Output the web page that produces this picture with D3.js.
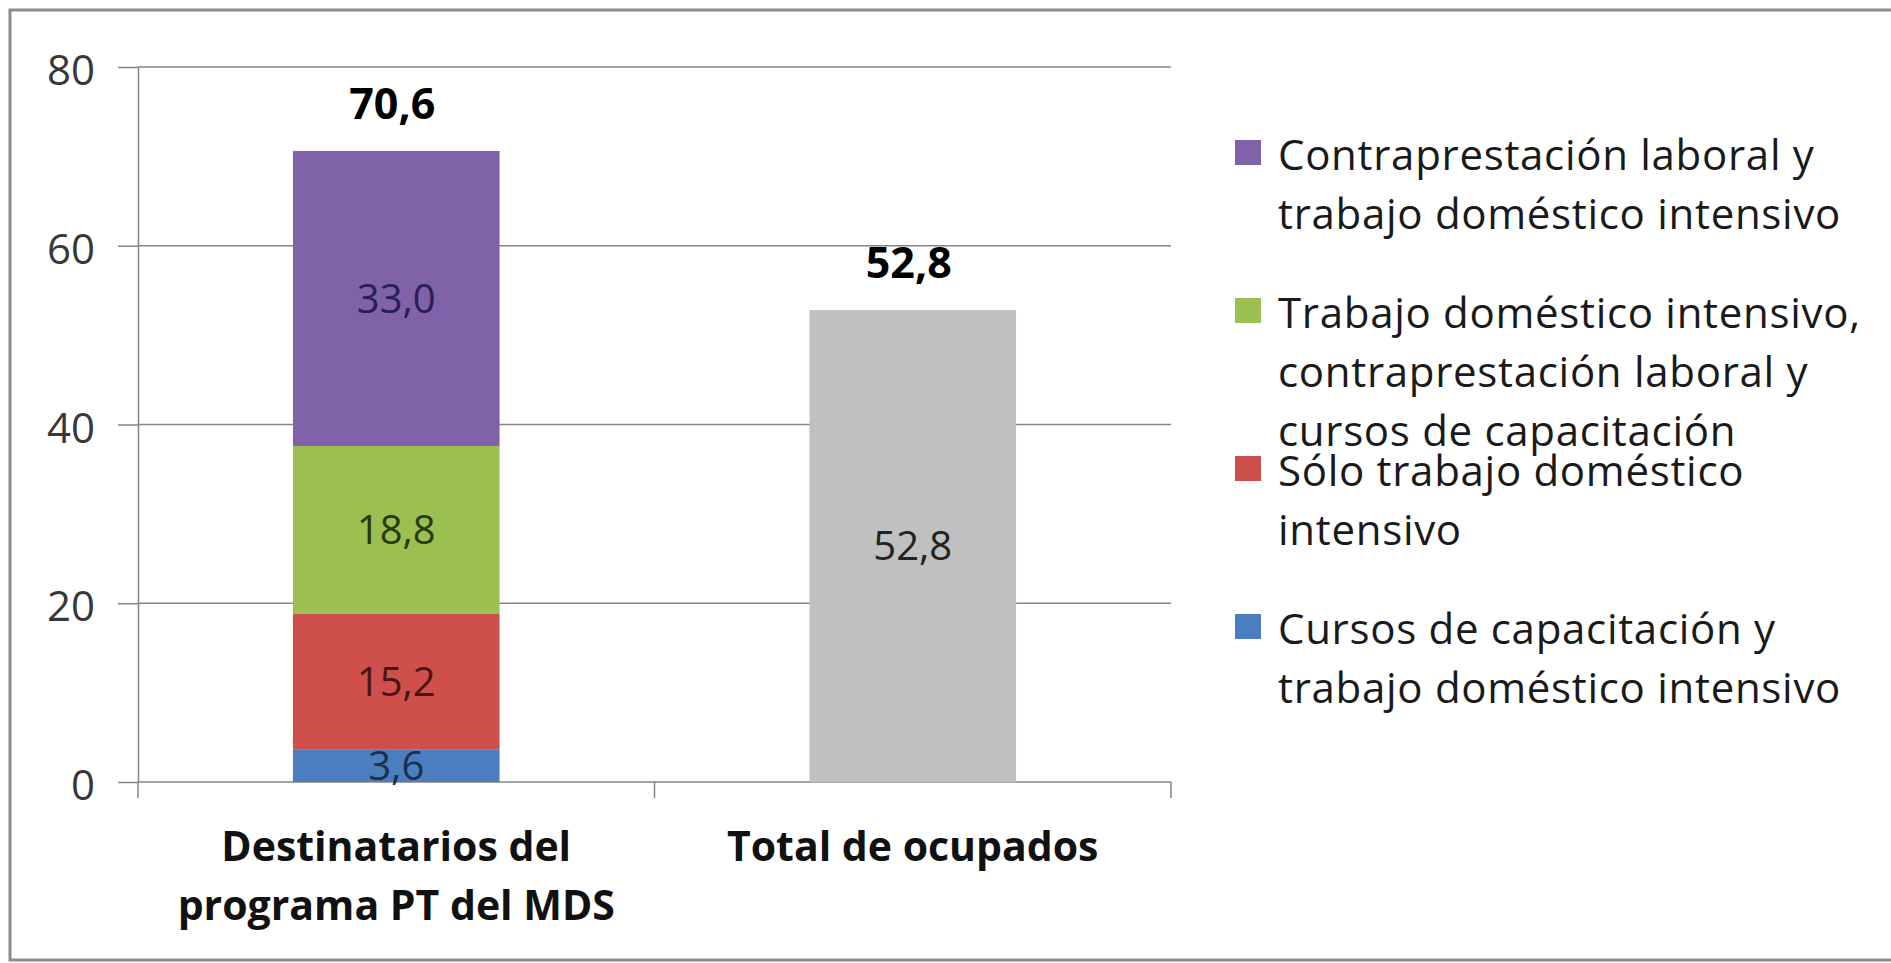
<!DOCTYPE html>
<html>
<head>
<meta charset="utf-8">
<script src="https://cdn.jsdelivr.net/npm/d3@7"></script>
<style>
  html, body { margin: 0; padding: 0; background: #fff; }
  svg text { font-family: "Open Sans", "Noto Sans", sans-serif; }
</style>
</head>
<body>
<svg id="chart" width="1891" height="963"></svg>
<script>
// categories and values
const categories = ["Destinatarios del programa PT del MDS", "Total de ocupados"];
const categoryLines = [["Destinatarios del", "programa PT del MDS"], ["Total de ocupados"]];
const seriesKeys = ["cursos", "solo", "trabajo", "contra"]; // stack order, bottom to top
const seriesLegend = [
  ["Cursos de capacitación y", "trabajo doméstico intensivo"],
  ["Sólo trabajo doméstico", "intensivo"],
  ["Trabajo doméstico intensivo,", "contraprestación laboral y", "cursos de capacitación"],
  ["Contraprestación laboral y", "trabajo doméstico intensivo"]
];
const seriesColors = ["#4a7ebf", "#cf4f4c", "#9cbf52", "#7f62a8"];
const seriesTextColors = ["#1c2f4f", "#4a1414", "#2a3a10", "#2a1f55"];
const destinatariosValues = [3.6, 15.2, 18.8, 33.0];
const totalOcupadosValue = 52.8;
const yTicks = [0, 20, 40, 60, 80];

const svg = d3.select("#chart");
const fmt = v => d3.format(".1f")(v).replace(".", ",");

// outer frame
svg.append("rect")
  .attr("x", 10).attr("y", 10)
  .attr("width", 1900).attr("height", 950)
  .attr("fill", "#fff")
  .attr("stroke", "#8c8c8c")
  .attr("stroke-width", 3);

const plot = { left: 138, right: 1171, top: 67, bottom: 782 };

const y = d3.scaleLinear().domain([0, 80]).range([plot.bottom, plot.top]);
const x = d3.scaleBand()
  .domain(categories)
  .range([plot.left, plot.right])
  .paddingInner(0.6)
  .paddingOuter(0.3);

// gridlines
svg.append("g")
  .selectAll("line")
  .data(yTicks)
  .join("line")
  .attr("x1", plot.left).attr("x2", plot.right)
  .attr("y1", d => y(d)).attr("y2", d => y(d))
  .attr("stroke", "#858585")
  .attr("stroke-width", 1.5);

// y axis
const yAxis = svg.append("g")
  .attr("transform", `translate(${plot.left},0)`)
  .call(d3.axisLeft(y).tickValues(yTicks).tickSizeInner(20).tickSizeOuter(0).tickPadding(23).tickFormat(d3.format("d")));
yAxis.select(".domain").attr("stroke", "#858585").attr("stroke-width", 1.5);
yAxis.selectAll(".tick line").attr("stroke", "#858585").attr("stroke-width", 1.5);
yAxis.selectAll(".tick text")
  .attr("font-size", 42)
  .attr("fill", "#383838")
  .attr("dy", "0.42em")
  .style("font-family", "'Open Sans', sans-serif");

// category boundary ticks on the x axis
const boundaries = [plot.left, ...categories.map(c => x(c) + x.bandwidth() + x.step() * x.paddingInner() / 2)];
boundaries[boundaries.length - 1] = plot.right;
svg.append("g")
  .selectAll("line")
  .data(boundaries)
  .join("line")
  .attr("x1", d => d).attr("x2", d => d)
  .attr("y1", plot.bottom).attr("y2", plot.bottom + 16)
  .attr("stroke", "#858585")
  .attr("stroke-width", 1.5);

// stacked bar
const stackRow = {};
seriesKeys.forEach((k, i) => { stackRow[k] = destinatariosValues[i]; });
const stacked = d3.stack().keys(seriesKeys)([stackRow]);

const bar1 = svg.append("g");
bar1.selectAll("rect")
  .data(stacked)
  .join("rect")
  .attr("x", x(categories[0]))
  .attr("width", x.bandwidth())
  .attr("y", d => y(d[0][1]))
  .attr("height", d => y(d[0][0]) - y(d[0][1]))
  .attr("fill", (d, i) => seriesColors[i]);

bar1.selectAll("text")
  .data(stacked)
  .join("text")
  .attr("x", x(categories[0]) + x.bandwidth() / 2)
  .attr("y", d => y((d[0][0] + d[0][1]) / 2))
  .attr("dy", "0.36em")
  .attr("text-anchor", "middle")
  .attr("font-size", 40)
  .attr("fill", (d, i) => seriesTextColors[i])
  .text((d, i) => fmt(destinatariosValues[i]));

// single grey bar
const bar2 = svg.append("g");
bar2.append("rect")
  .attr("x", x(categories[1]))
  .attr("width", x.bandwidth())
  .attr("y", y(totalOcupadosValue))
  .attr("height", y(0) - y(totalOcupadosValue))
  .attr("fill", "#c0c0c0");
bar2.append("text")
  .attr("x", x(categories[1]) + x.bandwidth() / 2)
  .attr("y", y(totalOcupadosValue / 2))
  .attr("dy", "0.36em")
  .attr("text-anchor", "middle")
  .attr("font-size", 40)
  .attr("fill", "#222")
  .text(fmt(totalOcupadosValue));

// totals above the bars
const totals = [d3.sum(destinatariosValues), totalOcupadosValue];
svg.append("g")
  .selectAll("text")
  .data(totals)
  .join("text")
  .attr("x", (d, i) => x(categories[i]) + x.bandwidth() / 2 - 4)
  .attr("y", d => y(d) - 32)
  .attr("text-anchor", "middle")
  .attr("font-size", 43)
  .attr("font-weight", "bold")
  .attr("fill", "#000")
  .text(d => fmt(d));

// category labels
const xLabels = svg.append("g");
categories.forEach((c, i) => {
  xLabels.append("text")
    .attr("x", x(c) + x.bandwidth() / 2)
    .attr("y", 861)
    .attr("text-anchor", "middle")
    .attr("font-size", 41)
    .attr("font-weight", "bold")
    .attr("fill", "#111")
    .selectAll("tspan")
    .data(categoryLines[i])
    .join("tspan")
    .attr("x", x(c) + x.bandwidth() / 2)
    .attr("dy", (d, j) => j === 0 ? 0 : 59)
    .text(d => d);
});

// legend, top entry is the top of the stack
const legendOrder = d3.range(seriesKeys.length).reverse();
const legend = svg.append("g").attr("transform", "translate(1235,0)");
legendOrder.forEach((s, row) => {
  const base = 170 + row * 158;
  legend.append("rect")
    .attr("x", 0)
    .attr("y", base - 30)
    .attr("width", 26)
    .attr("height", 25)
    .attr("fill", seriesColors[s]);
  legend.append("text")
    .attr("x", 43)
    .attr("y", base)
    .attr("font-size", 42)
    .attr("letter-spacing", 0.7)
    .attr("fill", "#1a1a1a")
    .selectAll("tspan")
    .data(seriesLegend[s])
    .join("tspan")
    .attr("x", 43)
    .attr("dy", (d, j) => j === 0 ? 0 : 59)
    .text(d => d);
});
</script>
</body>
</html>
